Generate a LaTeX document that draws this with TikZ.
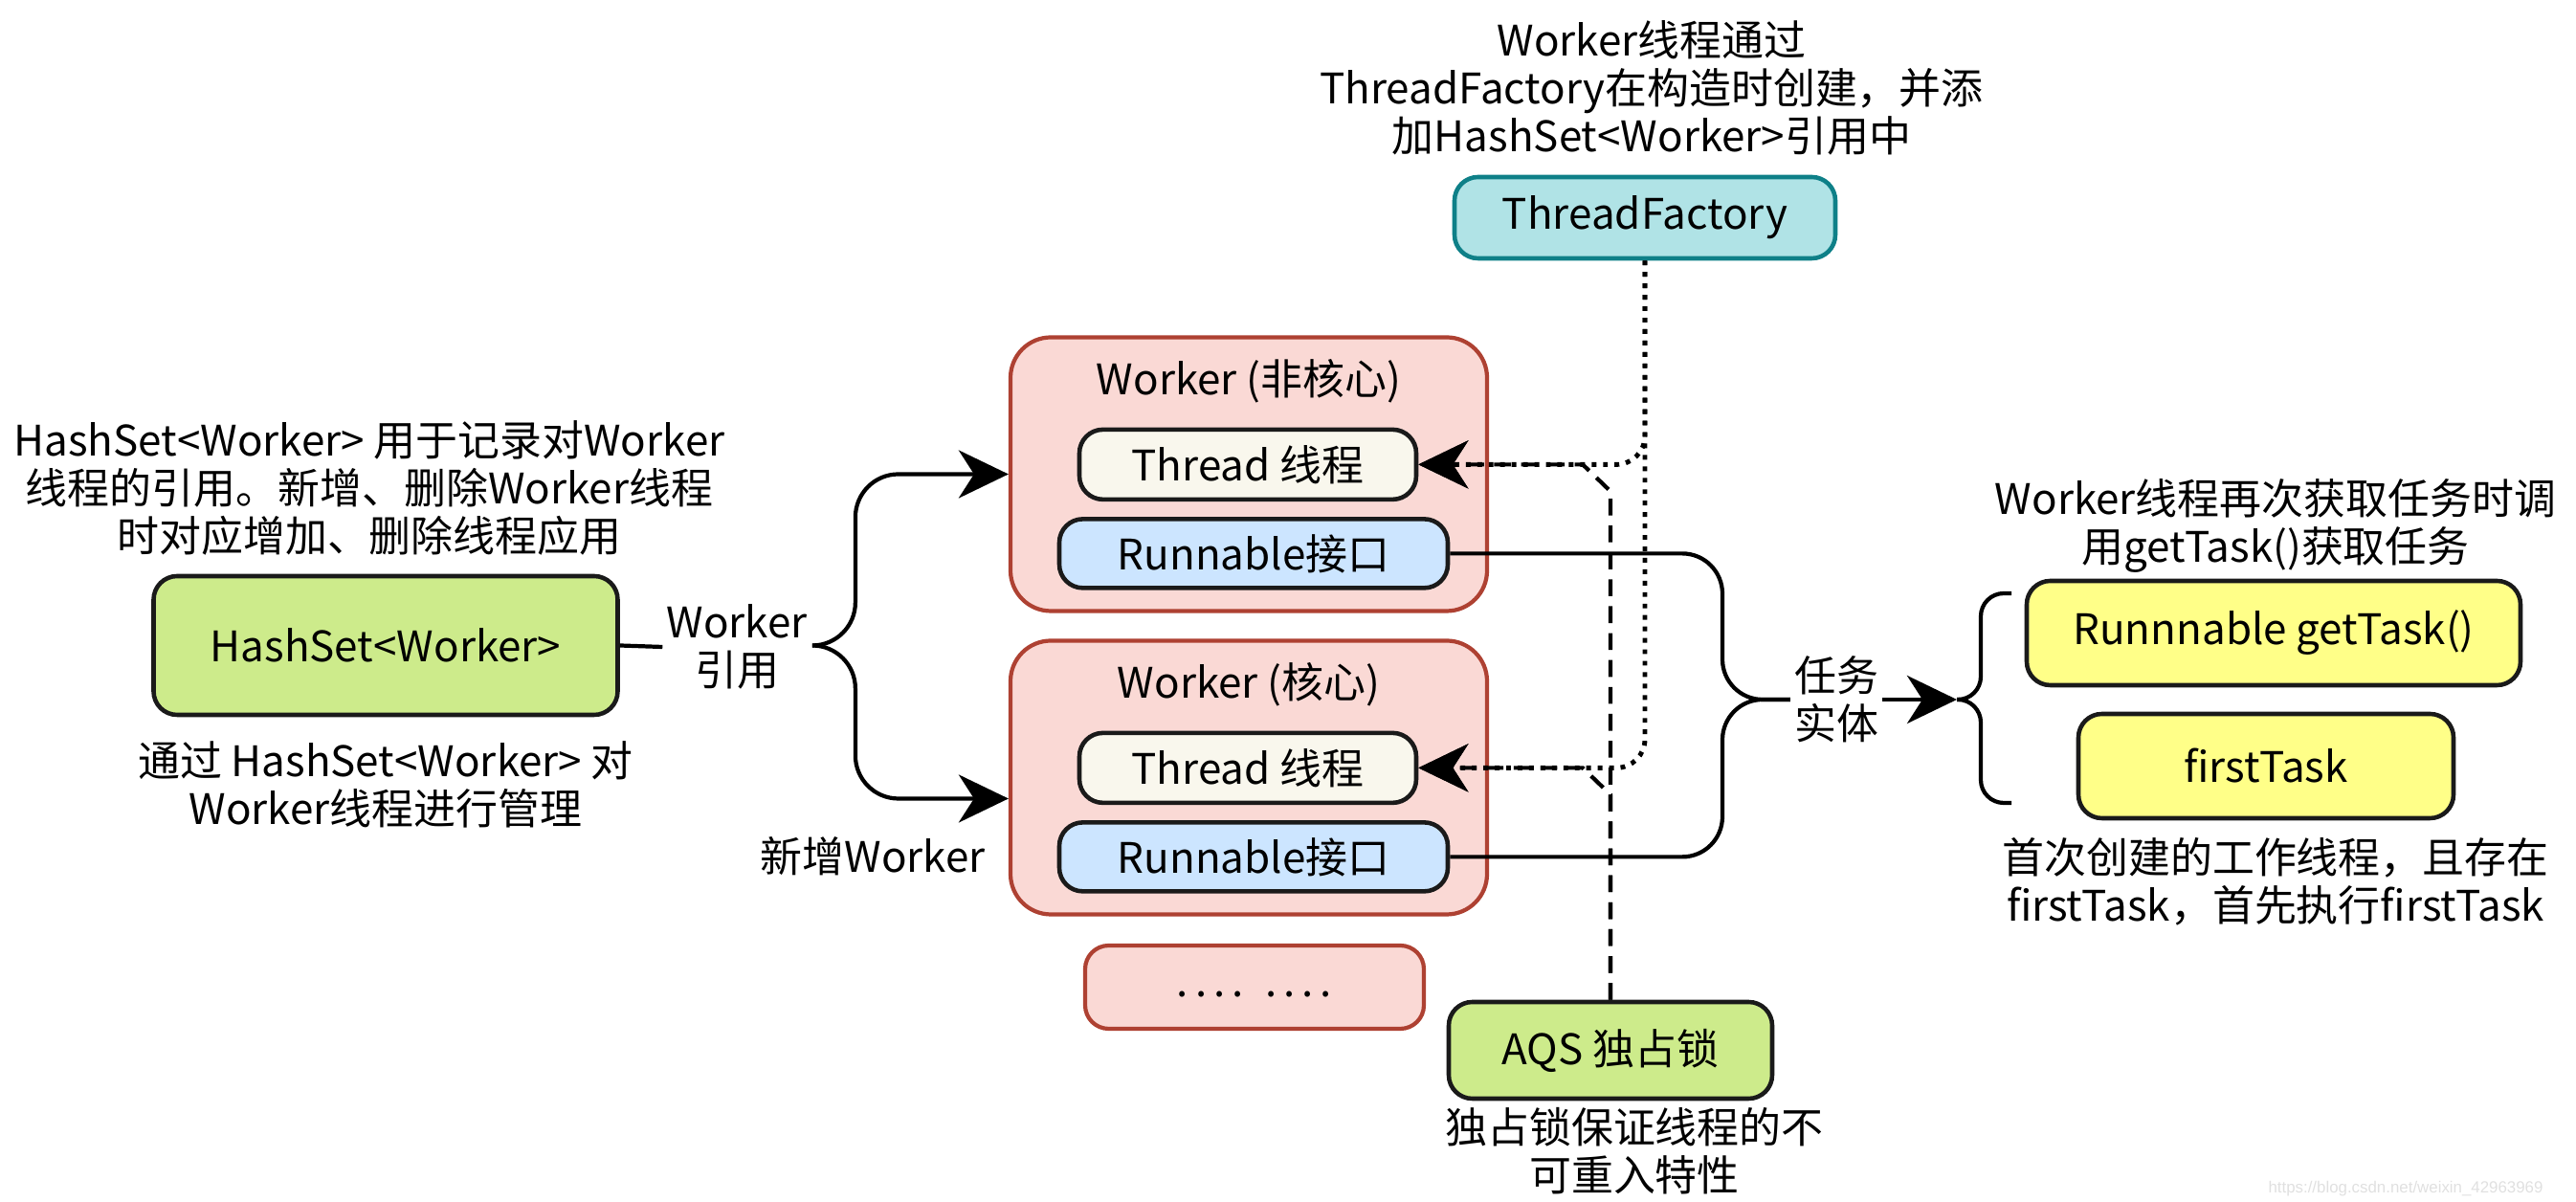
\documentclass[tikz,border=0pt]{standalone}
\usepackage{fontspec}
\setmainfont{Noto Sans CJK SC}
\newfontfamily\wmfont{Liberation Sans}
\usepackage{tikz}
\usepackage{xcolor}
\usetikzlibrary{arrows.meta,positioning,calc}
\definecolor{wkfill}{HTML}{FAD9D5}
\definecolor{wkline}{HTML}{AE4132}
\definecolor{thfill}{HTML}{F9F7ED}
\definecolor{rnfill}{HTML}{CCE5FF}
\definecolor{tffill}{HTML}{B0E3E6}
\definecolor{tfline}{HTML}{0E8088}
\definecolor{grfill}{HTML}{CDEB8B}
\definecolor{ylfill}{HTML}{FFFF88}
\definecolor{bxline}{HTML}{1A1A1A}

\begin{document}
\begin{tikzpicture}[
  font=\fontsize{12.5}{14.2}\selectfont,
  box/.style={draw=bxline,line width=1.3pt,rounded corners=7pt,inner sep=0pt},
  wbox/.style={draw=wkline,fill=wkfill,line width=1.2pt,rounded corners=12pt,inner sep=0pt},
  note/.style={align=center,inner sep=1pt},
  tip/.style={-{Stealth[length=5.2mm,width=5mm,inset=1.6mm]}},
  link/.style={line width=1.2pt},
]
\useasboundingbox (0,0) rectangle (26.92,12.56);

% ---------------- left: HashSet<Worker> ----------------
\node[note] (hsnote) at (3.86,7.46)
  {HashSet<Worker> 用于记录对Worker\\线程的引用。新增、删除Worker线程\\时对应增加、删除线程应用};
\node[box,fill=grfill,minimum width=4.85cm,minimum height=1.45cm] (hashset) at (4.03,5.815)
  {HashSet<Worker>};
\node[note] (hsmanage) at (4.03,4.36) {通过 HashSet<Worker> 对\\Worker线程进行管理};
\node[note] (wref) at (7.70,5.80) {Worker\\引用};
\node[note] (newwk) at (9.12,3.61) {新增Worker};
\coordinate (wtip) at (8.50,5.815);

% ---------------- middle: workers ----------------
\foreach \n/\kind/\y in {1/非核心/7.605, 2/核心/4.435}{
  \node[wbox,minimum width=4.98cm,minimum height=2.86cm] (worker\n) at (13.05,\y) {};
  \node (wtitle\n) at ($(worker\n.north)+(0,-0.48)$) {Worker (\kind)};
  \node[box,fill=thfill,minimum width=3.52cm,minimum height=0.73cm] (thread\n)
       at ($(worker\n.north)+(-0.01,-1.35)$) {Thread 线程};
  \node[box,fill=rnfill,minimum width=4.06cm,minimum height=0.72cm] (run\n)
       at ($(worker\n.north)+(0.05,-2.28)$) {Runnable接口};
}
\node[wbox,rounded corners=7pt,minimum width=3.54cm,minimum height=0.87cm] (more) at (13.11,2.245)
  {\strut{\addfontfeature{LetterSpace=16}.... ....}};

% HashSet -> workers
\draw[link] (hashset.east) -- (wref.west);
\draw[link,tip,rounded corners=0.45cm] (wtip) -| ($(worker1.west)+(-1.60,0)$) -- (worker1.west);
\draw[link,tip,rounded corners=0.45cm] (wtip) -| ($(worker2.west)+(-1.60,-0.22)$)
  -- ($(worker2.west)+(0,-0.22)$);

% ---------------- ThreadFactory and AQS ----------------
\node[note] (tfnote) at (17.26,11.64)
  {Worker线程通过\\ThreadFactory在构造时创建，并添\\加HashSet<Worker>引用中};
\node[box,draw=tfline,fill=tffill,minimum width=3.98cm,minimum height=0.85cm] (tfactory)
  at (17.19,10.285) {ThreadFactory};
\node[box,fill=grfill,minimum width=3.38cm,minimum height=1.01cm] (aqs) at (16.83,1.585)
  {AQS 独占锁};
\node[note] (aqsnote) at (17.08,0.53) {独占锁保证线程的不\\可重入特性};

% creation (dotted) and lock (dashed)
\foreach \n in {1,2}{
  \draw[link,line width=1.4pt,dotted,tip,rounded corners=0.3cm] (tfactory.south) |- (thread\n.east);
  \draw[link,dash pattern=on 5pt off 3pt,tip] (aqs.north)
    -- ($(thread\n.east -| aqs.north)+(0,-0.28)$)
    -- ($(thread\n.east -| aqs.north)+(-0.29,0)$) -- (thread\n.east);
}

% ---------------- right: tasks ----------------
\node[note] (taskent) at (19.19,5.25) {任务\\实体};
\coordinate (rtip) at (20.45,5.25);
\foreach \n in {1,2}{
  \draw[link,rounded corners=0.42cm] (run\n.east) -| (18.0,5.25) -- (taskent.west);
}
\draw[link,tip] (taskent.east) -- (rtip);
\draw[link,rounded corners=0.24cm] (21.02,6.36) -| (20.70,5.25) -- (rtip);
\draw[link,rounded corners=0.24cm] (21.02,4.17) -| (20.70,5.25) -- (rtip);

\node[note] (gtnote) at (23.78,7.065) {Worker线程再次获取任务时调\\用getTask()获取任务};
\node[box,fill=ylfill,minimum width=5.16cm,minimum height=1.09cm] (gettask) at (23.76,5.945)
  {Runnnable getTask()};
\node[box,fill=ylfill,minimum width=3.92cm,minimum height=1.09cm] (firsttask) at (23.68,4.555)
  {firstTask};
\node[note] (ftnote) at (23.78,3.35) {首次创建的工作线程，且存在\\firstTask，首先执行firstTask};

\node[text=black!12,font=\wmfont\fontsize{4.8}{5}\selectfont] (wmark) at (25.14,0.14)
  {https://blog.csdn.net/weixin\_42963969};

\end{tikzpicture}
\end{document}
